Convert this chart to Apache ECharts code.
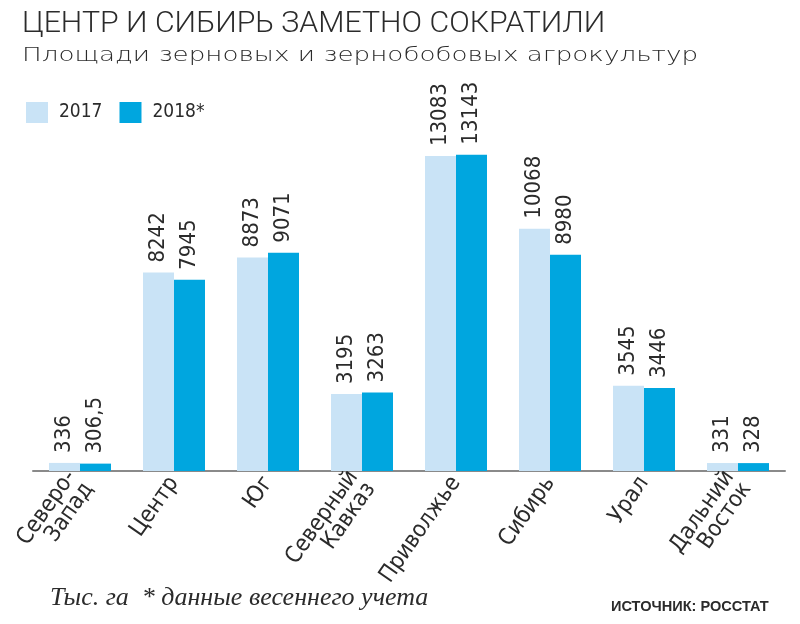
<!DOCTYPE html>
<html><head><meta charset="utf-8">
<script src="https://cdn.jsdelivr.net/npm/echarts@6/dist/echarts.min.js"></script>
<style>html,body{margin:0;padding:0;background:#fff}#c{width:800px;height:624px}</style>
</head><body><div id="c"></div>
<script>
const categories = ['Северо-\nЗапад', 'Центр', 'Юг', 'Северный\nКавказ', 'Приволжье', 'Сибирь', 'Урал', 'Дальний\nВосток'];
const values2017 = [336, 8242, 8873, 3195, 13083, 10068, 3545, 331];
const values2018 = [306.5, 7945, 9071, 3263, 13143, 8980, 3446, 328];
const seriesNames = ['2017', '2018*'];
const titleText = 'ЦЕНТР И СИБИРЬ ЗАМЕТНО СОКРАТИЛИ';
const subtitleText = 'Площади зерновых и зернобобовых агрокультур';
const noteText = 'Тыс. га  * данные весеннего учета';
const sourceText = 'ИСТОЧНИК: РОССТАТ';

const NARROW = "'Liberation Sans Narrow','Arial Narrow','DejaVu Sans Condensed','Roboto Condensed','Liberation Sans',sans-serif";
const LIGHT = '#c9e3f6';
const DARK = '#00a6df';
const TXT = '#2b2b2b';

const chart = echarts.init(document.getElementById('c'), null, {renderer: 'canvas'});

const labelCfg = {
  show: true,
  position: 'top',
  rotate: 90,
  align: 'left',
  verticalAlign: 'middle',
  distance: 10,
  fontFamily: NARROW,
  fontSize: 22,
  color: TXT,
  formatter: p => String(p.value).replace('.', ',')
};

chart.setOption({
  animation: false,
  backgroundColor: '#fff',
  textStyle: {fontFamily: NARROW},
  graphic: [
    {type: 'text', x: 22, y: 9, scaleX: 1.01,
     style: {text: titleText, x: 0, y: 0, font: "300 30px Roboto", fill: TXT}},
    {type: 'text', x: 22, y: 46, scaleX: 1.31,
     style: {text: subtitleText, x: 0, y: 0, font: "200 20px 'DejaVu Sans'", fill: TXT}},
    {type: 'text', x: 50, y: 585,
     style: {text: noteText, x: 0, y: 0, font: "italic 26px 'Liberation Serif'", fill: TXT}},
    {type: 'text', x: 611, y: 600, scaleX: 1.04,
     style: {text: sourceText, x: 0, y: 0, font: "bold 14px 'Liberation Sans'", fill: TXT}}
  ],
  legend: {
    left: 21, top: 97,
    icon: 'rect',
    itemWidth: 22, itemHeight: 21,
    itemGap: 17,
    textStyle: {fontFamily: NARROW, fontSize: 19, color: TXT, padding: [0, 0, 0, 6]},
    data: seriesNames
  },
  grid: {left: 33, right: 15, top: 134, bottom: 153, containLabel: false},
  xAxis: {
    type: 'category',
    data: categories,
    axisLine: {lineStyle: {color: '#8a8a8a', width: 2}},
    axisTick: {show: false},
    axisLabel: {interval: 0, rotate: 55, margin: 8, fontFamily: NARROW, fontSize: 23, color: TXT, lineHeight: 21}
  },
  yAxis: {type: 'value', min: 0, max: 14000, show: false, splitLine: {show: false}},
  series: [
    {name: seriesNames[0], type: 'bar', data: values2017, barWidth: 31, barGap: '0%',
     itemStyle: {color: LIGHT}, label: labelCfg},
    {name: seriesNames[1], type: 'bar', data: values2018, barWidth: 31, barGap: '0%',
     itemStyle: {color: DARK}, label: labelCfg}
  ]
});
</script>
</body></html>
